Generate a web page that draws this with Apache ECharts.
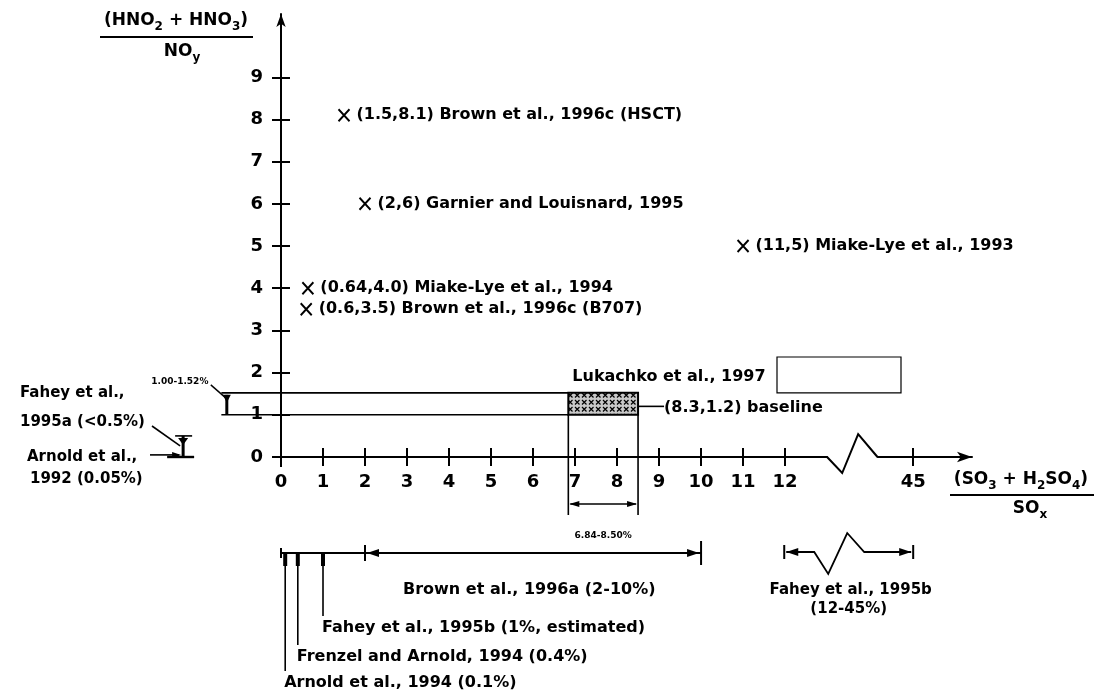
<!DOCTYPE html>
<html><head><meta charset="utf-8">
<script src="https://cdn.jsdelivr.net/npm/echarts@6/dist/echarts.min.js"></script>
<style>html,body{margin:0;padding:0;background:#fff}#c{width:1104px;height:697px}</style>
</head><body><div id="c"></div>
<script>
// ---------------- data ----------------
const yTickValues = [0, 1, 2, 3, 4, 5, 6, 7, 8, 9];
const xTickValues = [0, 1, 2, 3, 4, 5, 6, 7, 8, 9, 10, 11, 12, 45];
const pointX = [1.5, 2, 11, 0.64, 0.6];
const pointY = [8.1, 6, 5, 4.0, 3.5];
const pointLabels = [
  '(1.5,8.1) Brown et al., 1996c (HSCT)',
  '(2,6) Garnier and Louisnard, 1995',
  '(11,5) Miake-Lye et al., 1993',
  '(0.64,4.0) Miake-Lye et al., 1994',
  '(0.6,3.5) Brown et al., 1996c (B707)'
];
const lukachkoX = [6.84, 8.5];
const lukachkoY = [1.00, 1.52];
const lukachkoBaseline = [8.3, 1.2];
const lukachkoLabel = 'Lukachko et al., 1997';
const lukachkoYLabel = '1.00-1.52%';
const lukachkoXLabel = '6.84-8.50%';
const baselineLabel = '(8.3,1.2) baseline';
const faheyA = [0, 0.5];
const faheyALabel = ['Fahey et al.,', '1995a (<0.5%)'];
const arnold92 = 0.05;
const arnold92Label = ['Arnold et al.,', '1992 (0.05%)'];
const brownA = [2, 10];
const brownALabel = 'Brown et al., 1996a (2-10%)';
const faheyB = [12, 45];
const faheyBLabel = ['Fahey et al., 1995b', '(12-45%)'];
const singleX = [0.1, 0.4, 1];
const singleLabels = ['Arnold et al., 1994 (0.1%)', 'Frenzel and Arnold, 1994 (0.4%)', 'Fahey et al., 1995b (1%, estimated)'];

// ---------------- layout helpers ----------------
const FONT = 'DejaVu Sans';
const TS = 16;                     // annotation text size
const POS45 = 15.05;               // display position of the "45" tick after the axis break
const xd = v => (v > 12 ? POS45 : v);
const tickCustom = xTickValues.map(xd);

const chart = echarts.init(document.getElementById('c'), null, {renderer: 'canvas'});

function patternCanvas() {
  const c = document.createElement('canvas');
  c.width = 7; c.height = 7;
  const g = c.getContext('2d');
  g.fillStyle = '#c8c8c8'; g.fillRect(0, 0, 7, 7);
  g.strokeStyle = '#000'; g.lineWidth = 1.2;
  g.beginPath(); g.moveTo(1, 1); g.lineTo(5.5, 5.5); g.moveTo(5.5, 1); g.lineTo(1, 5.5); g.stroke();
  return c;
}
const pat = patternCanvas();

function line(x1, y1, x2, y2, w) {
  return {type: 'line', shape: {x1, y1, x2, y2}, style: {stroke: '#000', lineWidth: w || 1.6}, silent: true};
}
function poly(points, w) {
  return {type: 'polyline', shape: {points}, style: {stroke: '#000', lineWidth: w || 1.6, fill: null}, silent: true};
}
function tri(tx, ty, dir, L, H) {
  L = L || 9; H = H || 4;
  let pts;
  if (dir === 'left') pts = [[tx, ty], [tx + L, ty - H], [tx + L, ty + H]];
  else if (dir === 'right') pts = [[tx, ty], [tx - L, ty - H], [tx - L, ty + H]];
  else if (dir === 'down') pts = [[tx, ty], [tx - H, ty - L], [tx + H, ty - L]];
  else pts = [[tx, ty], [tx - H, ty + L], [tx + H, ty + L]];
  return {type: 'polygon', shape: {points: pts}, style: {fill: '#000'}, silent: true};
}
function txt(x, y, text, opt) {
  opt = opt || {};
  return {type: 'text', x, y, silent: true, style: Object.assign({
    text, fill: '#000', font: (opt.weight || 'bold') + ' ' + (opt.size || TS) + 'px "' + FONT + '"',
    textAlign: opt.align || 'left', textVerticalAlign: 'middle'
  }, opt.extra || {})};
}

// ---------------- annotations drawn through the axes ----------------
function renderAnnotations(params, api) {
  const c = (x, y) => api.coord([x, y]);
  const els = [];
  const y0 = c(0, 0)[1];

  // axis break on the x axis
  const b1 = c(13.02, 0), b2 = c(14.19, 0);
  els.push({type: 'rect', shape: {x: b1[0], y: y0 - 5, width: b2[0] - b1[0], height: 10}, style: {fill: '#fff'}, silent: true});
  els.push(poly([c(13.0, 0), c(13.36, -0.38), c(13.74, 0.54), c(14.2, 0)], 2));
  // small extension of axes past the origin
  els.push(line(c(0, 0)[0], y0, c(0, 0)[0], y0 + 10, 2));
  els.push(line(c(-0.2, 0)[0], y0, c(0, 0)[0], y0, 2));

  // Lukachko box
  const p1 = c(lukachkoX[0], lukachkoY[1]), p2 = c(lukachkoX[1], lukachkoY[0]);
  els.push({type: 'rect', shape: {x: p1[0], y: p1[1], width: p2[0] - p1[0], height: p2[1] - p1[1]},
    style: {fill: {image: pat, repeat: 'repeat'}, stroke: '#000', lineWidth: 2}, silent: true});
  // horizontal guides to the y-axis bracket
  const bx = c(-1.29, 0)[0];
  const lx = c(-1.42, 0)[0];
  els.push(line(lx, p1[1], p1[0], p1[1], 1.6));
  els.push(line(lx, p2[1], p1[0], p2[1], 1.6));
  els.push(line(bx, p1[1] + 2, bx, p2[1], 3));
  els.push(tri(bx, p1[1] + 10, 'down', 8, 4));
  els.push(line(bx - 16, p1[1] - 8, bx, p1[1] + 6, 1.4));
  els.push(txt(bx - 47, p1[1] - 11, lukachkoYLabel, {size: 9, align: 'center'}));
  // vertical guides below the axis + double arrow
  const vyEnd = y0 + 58, ay = y0 + 47;
  els.push(line(p1[0], p2[1], p1[0], vyEnd, 1.6));
  els.push(line(p2[0], p2[1], p2[0], vyEnd, 1.6));
  els.push(line(p1[0] + 2, ay, p2[0] - 2, ay, 1.4));
  els.push(tri(p1[0] + 1, ay, 'left', 10, 3));
  els.push(tri(p2[0] - 1, ay, 'right', 10, 3));
  els.push(txt((p1[0] + p2[0]) / 2, y0 + 79, lukachkoXLabel, {size: 9, align: 'center'}));
  // labels
  els.push(txt(p1[0] + 4, p1[1] - 16, lukachkoLabel));
  els.push({type: 'rect', shape: {x: 777, y: 357, width: 124, height: p1[1] - 357}, style: {fill: null, stroke: '#000', lineWidth: 1.2}, silent: true});
  const bl = c(lukachkoX[1], lukachkoBaseline[1]);
  els.push(line(bl[0], bl[1], bl[0] + 26, bl[1], 1.6));
  els.push(txt(bl[0] + 26, bl[1] + 1, baselineLabel));

  // Fahey 1995a / Arnold 1992 bracket left of y axis
  const fx = c(-2.33, 0)[0];
  const fTop = c(0, faheyA[1])[1], fBot = c(0, faheyA[0])[1];
  els.push(line(fx, fTop, fx, fBot, 3));
  els.push(line(fx - 8, fTop, fx + 9, fTop, 1.6));
  els.push(line(fx - 16, fBot, fx + 11, fBot, 2.4));
  els.push(tri(fx, fTop + 9, 'down', 7, 5));
  const ay92 = c(0, arnold92)[1];
  els.push(line(150, ay92, fx - 4, ay92, 1.6));
  els.push(tri(fx - 2, ay92, 'right', 9, 3));
  els.push(line(152, 426, fx - 3, fTop + 10, 1.6));
  els.push(txt(20, 393, faheyALabel[0], {size: 15}));
  els.push(txt(20, 422, faheyALabel[1], {size: 15}));
  els.push(txt(27, 457, arnold92Label[0], {size: 15}));
  els.push(txt(30, 479, arnold92Label[1], {size: 15}));

  // lower scale: Brown 1996a range and single estimates
  const BY = y0 + 96;
  const s0 = c(0, 0)[0], s2 = c(brownA[0], 0)[0], s10 = c(brownA[1], 0)[0];
  els.push(line(s0, BY, s10, BY, 2));
  els.push(line(s0, BY - 5, s0, BY + 5, 2));
  els.push(line(s2, BY - 8, s2, BY + 8, 2));
  els.push(tri(s2 + 2, BY, 'left', 12, 4));
  els.push(line(s10, BY - 12, s10, BY + 12, 2));
  els.push(tri(s10 - 2, BY, 'right', 12, 4));
  els.push(txt(403, BY + 37, brownALabel));
  const labelYs = [y0 + 226, y0 + 200, y0 + 171];
  singleX.forEach((v, i) => {
    const sx = c(v, 0)[0];
    els.push(line(sx, BY, sx, labelYs[i] - 12, 1.6));
    els.push({type: 'rect', shape: {x: sx - 2, y: BY, width: 4, height: 13}, style: {fill: '#000'}, silent: true});
    els.push(txt(sx - 1, labelYs[i], singleLabels[i]));
  });

  // Fahey 1995b range with its own break
  const r1 = c(faheyB[0] - 0.02, 0)[0], r2 = c(xd(faheyB[1]), 0)[0];
  const FY = BY - 1;
  els.push(line(r1, FY - 7, r1, FY + 7, 2));
  els.push(line(r2, FY - 7, r2, FY + 7, 2));
  els.push(tri(r1 + 2, FY, 'left', 12, 4));
  els.push(tri(r2 - 2, FY, 'right', 12, 4));
  els.push(poly([[r1 + 2, FY], [r1 + 30, FY], [r1 + 44, FY + 22], [r1 + 63, FY - 19], [r1 + 80, FY], [r2 - 2, FY]], 1.8));
  els.push(txt((r1 + r2) / 2 + 2, FY + 38, faheyBLabel[0], {size: 15, align: 'center'}));
  els.push(txt((r1 + r2) / 2, FY + 57, faheyBLabel[1], {size: 15, align: 'center'}));

  return {type: 'group', children: els};
}

const axisCommon = {type: 'value', splitLine: {show: false}};
const richTitle = (size, sub) => ({
  a: {fontFamily: FONT, fontSize: size, fontWeight: 'bold', color: '#000', lineHeight: 24, verticalAlign: 'middle'},
  s: {fontFamily: FONT, fontSize: sub, fontWeight: 'bold', color: '#000', lineHeight: 24, verticalAlign: 'bottom'}
});
const pointLabelStyle = {show: true, position: 'right', distance: 6, color: '#000', opacity: 1,
  fontFamily: FONT, fontSize: 16, fontWeight: 'bold', textBorderWidth: 0};

const option = {
  backgroundColor: '#fff',
  animation: false,
  grid: {left: 281, right: 132, top: 14, bottom: 240, containLabel: false},
  xAxis: [
    Object.assign({}, axisCommon, {
      min: 0, max: 16.45, position: 'bottom',
      axisLine: {show: true, lineStyle: {color: '#000', width: 2}, symbol: ['none', 'arrow'], symbolSize: [8, 15]},
      axisTick: {show: true, length: 9, lineStyle: {color: '#000', width: 2}, customValues: tickCustom},
      axisLabel: {show: true, customValues: tickCustom, margin: 16, color: '#000', fontFamily: FONT, fontSize: 18, fontWeight: 'bold',
        formatter: v => (v > 12 ? '45' : String(v))}
    }),
    Object.assign({}, axisCommon, {
      min: 0, max: 16.45, position: 'bottom', offset: 0,
      axisLine: {show: false},
      axisTick: {show: true, inside: true, length: 9, lineStyle: {color: '#000', width: 2}, customValues: tickCustom},
      axisLabel: {show: false}
    })
  ],
  yAxis: [
    Object.assign({}, axisCommon, {
      min: 0, max: 10.5, position: 'left',
      axisLine: {show: true, lineStyle: {color: '#000', width: 2}, symbol: ['none', 'arrow'], symbolSize: [7, 13]},
      axisTick: {show: true, length: 9, lineStyle: {color: '#000', width: 2}, customValues: yTickValues},
      axisLabel: {show: true, customValues: yTickValues, margin: 18, color: '#000', fontFamily: FONT, fontSize: 18, fontWeight: 'bold'}
    }),
    Object.assign({}, axisCommon, {
      min: 0, max: 10.5, position: 'left', offset: 0,
      axisLine: {show: false},
      axisTick: {show: true, inside: true, length: 9, lineStyle: {color: '#000', width: 2}, customValues: yTickValues},
      axisLabel: {show: false}
    })
  ],
  graphic: [
    {type: 'text', x: 176, y: 21, silent: true, style: {
      text: '{a|(HNO}{s|2}{a| + HNO}{s|3}{a|)}', textAlign: 'center', textVerticalAlign: 'middle', rich: richTitle(17, 12)}},
    {type: 'line', silent: true, shape: {x1: 100, y1: 37, x2: 253, y2: 37}, style: {stroke: '#000', lineWidth: 2}},
    {type: 'text', x: 182, y: 52, silent: true, style: {
      text: '{a|NO}{s|y}', textAlign: 'center', textVerticalAlign: 'middle', rich: richTitle(17, 12)}},
    {type: 'text', x: 1021, y: 480, silent: true, style: {
      text: '{a|(SO}{s|3}{a| + H}{s|2}{a|SO}{s|4}{a|)}', textAlign: 'center', textVerticalAlign: 'middle', rich: richTitle(17, 12)}},
    {type: 'line', silent: true, shape: {x1: 950, y1: 495, x2: 1094, y2: 495}, style: {stroke: '#000', lineWidth: 2}},
    {type: 'text', x: 1030, y: 509, silent: true, style: {
      text: '{a|SO}{s|x}', textAlign: 'center', textVerticalAlign: 'middle', rich: richTitle(17, 12)}}
  ],
  series: [
    {
      type: 'scatter', xAxisIndex: 0, yAxisIndex: 0, clip: false,
      data: pointX.map((x, i) => ({value: [x, pointY[i]], label: Object.assign({}, pointLabelStyle, {formatter: pointLabels[i]})})),
      symbol: 'path://M0,0L10,11M10,0L0,11', symbolSize: [11, 12],
      itemStyle: {color: 'rgba(0,0,0,0)', borderColor: '#000', borderWidth: 2, opacity: 1},
      label: pointLabelStyle,
      emphasis: {disabled: true}
    },
    {
      type: 'custom', xAxisIndex: 0, yAxisIndex: 0, clip: false, z: 5,
      data: [[0, 0]],
      renderItem: renderAnnotations
    }
  ]
};
chart.setOption(option);
</script>
</body></html>
